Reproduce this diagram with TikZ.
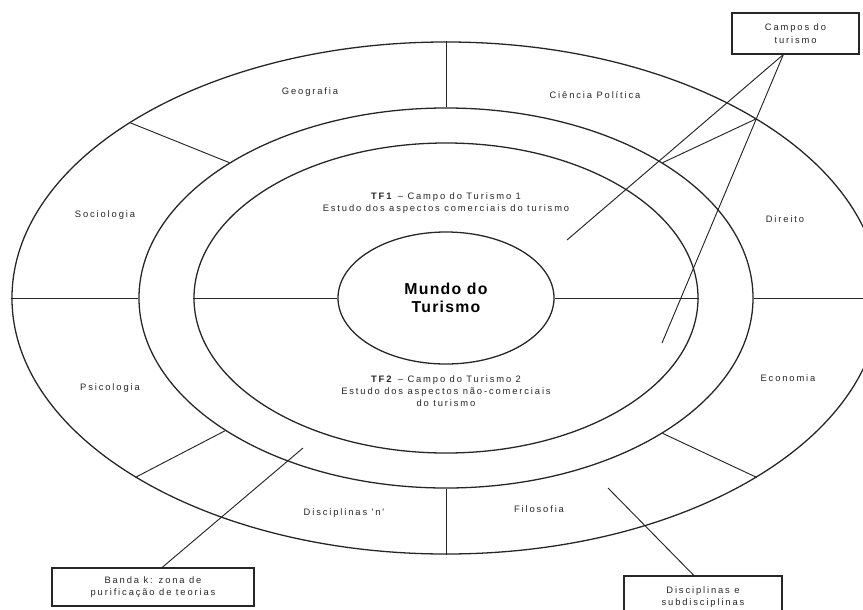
\documentclass[tikz,border=0pt]{standalone}
\usepackage{fontspec}
\setmainfont{Liberation Sans}
\newfontfamily\spacedfont[LetterSpace=20]{Liberation Sans}
\newfontfamily\mundofont[LetterSpace=8]{Liberation Sans}
\usetikzlibrary{shapes.geometric}
\tikzset{
  orbit/.style={draw=black!85, line width=1.1pt, ellipse, inner sep=0pt},
  lbl/.style={font=\spacedfont\fontsize{8}{10.5}\selectfont, align=center, text=black!85},
  labelbox/.style={lbl, draw=black!85, line width=0.9pt, inner sep=0pt},
  divline/.style={draw=black!85, line width=0.8pt},
}
\begin{document}
\begin{tikzpicture}[x=0.03cm,y=-0.03cm]
\useasboundingbox (0,0) rectangle (863,609);
\clip (0,0) rectangle (863,609);
% the four ellipses
\node[orbit, minimum width=26.04cm, minimum height=15.36cm] (outer) at (446,298) {};
\node[orbit, minimum width=18.42cm, minimum height=11.4cm] (band) at (446,298) {};
\node[orbit, minimum width=15.12cm, minimum height=9.3cm] (field) at (446,298) {};
\node[orbit, minimum width=6.48cm, minimum height=3.96cm, align=center,
      font=\mundofont\bfseries\fontsize{13.5}{15.5}\selectfont] (mundo) at (446,298) {Mundo do\\Turismo};
% horizontal and vertical dividers
\draw[divline] (outer.west) -- (band.west);
\draw[divline] (field.west) -- (mundo.west);
\draw[divline] (mundo.east) -- (field.east);
\draw[divline] (band.east) -- (outer.east);
\draw[divline] (outer.north) -- (band.north);
\draw[divline] (band.south) -- (outer.south);
% slanted dividers
\draw[divline] (outer.151) -- (band.148);
\draw[divline] (outer.30) -- (band.32);
\draw[divline] (outer.210) -- (band.211);
\draw[divline] (outer.330) -- (band.328.5);
% disciplines
\foreach \nm/\pos/\txt in {geo/{310,92}/Geografia, pol/{595,95}/Ciência Política,
    soc/{105,215}/Sociologia, dir/{785,219}/Direito, psi/{110,388}/Psicologia,
    eco/{788,378}/Economia, disn/{344,513}/Disciplinas 'n', fil/{539,509}/Filosofia}
  \node[lbl] (\nm) at (\pos) {\txt};
% the two fields
\node[lbl] (tfone) at (446,203) {\textbf{TF1} – Campo do Turismo 1\\Estudo dos aspectos comerciais do turismo};
\node[lbl] (tftwo) at (446,391) {\textbf{TF2} – Campo do Turismo 2\\Estudo dos aspectos não-comerciais\\do turismo};
% boxes and their pointers
\node[labelbox, minimum width=3.81cm, minimum height=1.23cm] (campos) at (795.5,33.5) {Campos do\\turismo};
\node[labelbox, minimum width=6.06cm, minimum height=1.14cm] (banda) at (153,587) {Banda k: zona de\\purificação de teorias};
\node[labelbox, minimum width=4.74cm, minimum height=1.26cm] (discip) at (703,597) {Disciplinas e\\subdisciplinas};
\coordinate (tfonept) at (567,240);
\coordinate (tftwopt) at (662,343);
\coordinate (bandapt) at (303,448);
\coordinate (discpt) at (608,488);
\draw[divline] (campos.-120) -- (tfonept);
\draw[divline] (campos.-120) -- (tftwopt);
\draw[divline] (banda.65) -- (bandapt);
\draw[divline] (discip.113) -- (discpt);
\end{tikzpicture}
\end{document}
